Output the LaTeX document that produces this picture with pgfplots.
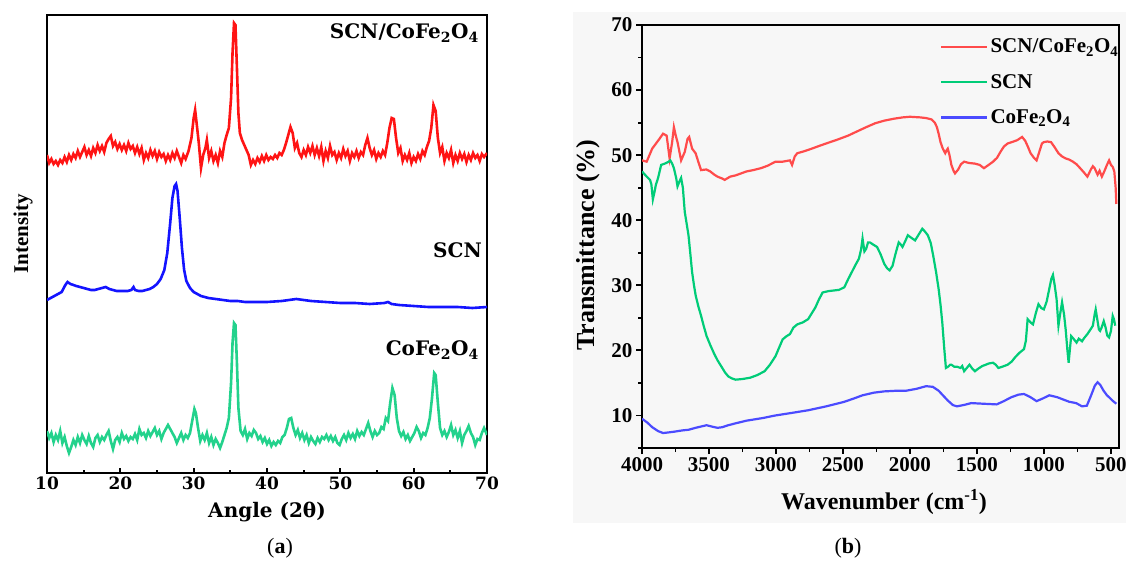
\documentclass[border=0pt]{standalone}
\usepackage{fontspec}
\setmainfont{Liberation Serif}
\newfontfamily\dvs{DejaVu Serif}
\usepackage{pgfplots}
\usepackage{pgfplotstable}
\pgfplotsset{compat=1.18}
\definecolor{redA}{RGB}{255,20,20}
\definecolor{blueA}{RGB}{20,20,255}
\definecolor{greenA}{RGB}{35,210,140}
\definecolor{redB}{RGB}{255,75,75}
\definecolor{greenB}{RGB}{0,204,120}
\definecolor{blueB}{RGB}{75,75,255}
\definecolor{bgB}{RGB}{247,247,247}
\newcommand\fs[1]{\fontsize{#1}{#1}\selectfont}

\pgfplotstableread{
x y
10.0 318
10.3 310
10.6 314
10.9 309
11.2 312
11.5 308
11.8 313
12.1 310
12.4 316
12.7 311
13.0 318
13.3 313
13.6 319
13.9 315
14.2 322
14.5 316
14.8 321
15.1 326
15.4 318
15.7 323
16.0 317
16.3 325
16.6 320
16.9 328
17.2 322
17.5 327
17.8 321
18.1 330
18.4 334
18.7 337
19.0 327
19.3 331
19.6 324
19.9 329
20.2 323
20.5 328
20.8 322
21.1 330
21.4 324
21.7 327
22.0 320
22.3 326
22.6 319
22.9 325
23.2 313
23.5 320
23.8 315
24.1 323
24.4 317
24.7 322
25.0 314
25.3 321
25.6 316
25.9 319
26.2 312
26.5 318
26.8 313
27.1 320
27.4 315
27.7 322
28.0 316
28.3 310
28.6 318
28.9 314
29.3 322
29.7 335
30.0 355
30.2 363
30.4 350
30.7 330
31.0 305
31.3 318
31.6 325
31.8 333
32.1 315
32.4 322
32.7 312
33.0 318
33.3 310
33.6 322
33.9 316
34.2 330
34.5 338
34.8 345
35.1 375
35.3 420
35.5 450
35.7 448
35.9 405
36.1 360
36.3 340
36.6 333
36.9 328
37.2 323
37.5 318
37.8 308
38.1 313
38.4 309
38.7 315
39.0 311
39.3 317
39.6 312
39.9 318
40.2 313
40.5 316
40.8 314
41.1 318
41.4 315
41.7 320
42.0 318
42.3 323
42.6 330
42.9 338
43.2 346
43.5 340
43.8 325
44.1 330
44.4 320
44.7 316
45.0 323
45.3 318
45.6 326
45.9 320
46.2 327
46.5 318
46.8 325
47.1 317
47.4 326
47.7 312
48.0 322
48.3 315
48.6 327
48.9 318
49.2 321
49.5 313
49.8 320
50.1 315
50.4 324
50.7 317
51.0 322
51.3 312
51.6 320
51.9 316
52.2 322
52.5 315
52.8 321
53.1 318
53.4 328
53.7 335
54.0 325
54.3 318
54.6 323
54.9 314
55.2 320
55.5 316
55.8 322
56.1 318
56.4 330
56.7 345
57.0 355
57.3 354
57.6 335
57.9 320
58.2 325
58.5 312
58.8 318
59.1 313
59.4 320
59.7 310
60.0 316
60.3 312
60.6 319
60.9 314
61.2 322
61.5 318
61.8 326
62.1 332
62.4 345
62.7 368
63.0 362
63.3 335
63.6 320
63.9 326
64.2 312
64.5 320
64.8 315
65.1 323
65.4 310
65.7 318
66.0 312
66.3 320
66.6 314
66.9 319
67.2 311
67.5 318
67.8 313
68.1 320
68.4 315
68.7 318
69.0 312
69.3 319
69.6 316
70.0 320
}\xrdcomp

\pgfplotstableread{
x y
10.0 173
10.5 175
11.0 177
11.5 179
12.0 181
12.5 188
12.8 191
13.2 189
13.6 188
14.0 187
14.5 186
15.0 185
15.5 184
16.0 183
16.5 183
17.0 184
17.5 185
18.0 186
18.5 184
19.0 183
19.5 182
20.0 182
20.5 182
21.0 182
21.5 183
21.8 186
22.0 183
22.5 182
23.0 182
23.5 183
24.0 184
24.5 186
25.0 189
25.5 194
26.0 203
26.4 220
26.8 250
27.1 275
27.4 287
27.6 289
27.8 282
28.1 255
28.4 225
28.7 203
29.0 192
29.5 185
30.0 181
30.5 179
31.0 177
32.0 175
33.0 174
34.0 173
35.0 172
36.0 172
37.0 171
38.0 171
40.0 171
42.0 172
43.0 173
44.0 174
45.0 173
46.0 172
48.0 171
50.0 170
52.0 170
54.0 169
56.0 170
56.5 171
57.0 169
58.0 168
60.0 167
62.0 166
64.0 166
66.0 166
68.0 165
70.0 166
}\xrdscn

\pgfplotstableread{
x y
10.0 42
10.3 35
10.6 40
10.9 31
11.2 38
11.5 33
11.8 42
12.1 30
12.4 36
12.7 27
13.0 20
13.3 26
13.6 33
13.9 28
14.2 36
14.5 30
14.8 38
15.1 33
15.4 29
15.7 37
16.0 30
16.3 26
16.6 35
16.9 38
17.2 31
17.5 36
17.8 33
18.1 38
18.4 42
18.7 32
19.0 24
19.3 33
19.6 36
19.9 31
20.2 40
20.5 34
20.8 37
21.1 32
21.4 36
21.7 34
22.0 39
22.3 33
22.6 44
22.9 38
23.2 40
23.5 35
23.8 42
24.1 37
24.4 41
24.7 45
25.0 38
25.3 42
25.6 34
25.9 40
26.2 44
26.5 48
26.8 44
27.1 40
27.4 36
27.7 30
28.0 35
28.3 40
28.6 33
28.9 38
29.2 35
29.5 40
29.8 52
30.1 64
30.3 60
30.6 45
30.9 32
31.2 38
31.5 33
31.8 40
32.1 30
32.4 36
32.7 28
33.0 34
33.3 30
33.6 25
33.9 31
34.2 38
34.5 45
34.8 55
35.1 90
35.3 130
35.5 150
35.7 148
35.9 110
36.1 65
36.4 42
36.7 38
37.0 44
37.3 34
37.6 40
37.9 37
38.2 43
38.5 40
38.8 34
39.1 37
39.4 31
39.7 35
40.0 29
40.3 33
40.6 27
40.9 31
41.2 28
41.5 32
41.8 30
42.1 36
42.4 38
42.7 45
43.0 54
43.3 55
43.6 45
43.9 38
44.2 43
44.5 35
44.8 40
45.1 33
45.4 38
45.7 30
46.0 36
46.3 32
46.6 29
46.9 35
47.2 31
47.5 36
47.8 34
48.1 38
48.4 33
48.7 37
49.0 32
49.3 36
49.6 30
49.9 28
50.2 34
50.5 38
50.8 33
51.1 40
51.4 35
51.7 39
52.0 34
52.3 42
52.6 37
52.9 41
53.2 38
53.5 44
53.8 50
54.1 42
54.4 36
54.7 42
55.0 38
55.3 40
55.6 46
55.9 44
56.2 55
56.5 52
56.8 70
57.1 85
57.4 78
57.7 55
58.0 42
58.3 37
58.6 41
58.9 34
59.2 38
59.5 32
59.8 36
60.1 40
60.4 46
60.7 42
61.0 35
61.3 40
61.6 38
61.9 45
62.2 55
62.5 75
62.8 100
63.0 98
63.3 70
63.6 45
63.9 38
64.2 42
64.5 36
64.8 41
65.1 48
65.4 38
65.7 43
66.0 35
66.3 42
66.6 30
66.9 38
67.2 42
67.5 47
67.8 40
68.1 36
68.4 28
68.7 34
69.0 33
69.3 40
69.6 45
70.0 38
}\xrdcofe

\pgfplotstableread{
x y
4000 49.2
3965 49.0
3924 51.0
3870 52.5
3843 53.3
3816 53.0
3794 49.5
3775 52.0
3762 54.3
3748 53.0
3735 52.0
3708 49.2
3681 50.5
3660 52.5
3648 52.8
3626 51.0
3600 50.3
3580 49.0
3559 47.7
3520 47.8
3491 47.5
3460 47.0
3437 46.7
3400 46.4
3383 46.2
3342 46.7
3300 46.9
3260 47.2
3220 47.5
3170 47.7
3112 48.0
3060 48.4
3004 49.0
2950 49.0
2896 49.2
2880 48.5
2860 49.8
2841 50.3
2790 50.6
2733 51.0
2680 51.4
2625 51.8
2540 52.4
2462 53.0
2400 53.6
2327 54.3
2260 54.9
2192 55.3
2120 55.6
2056 55.8
2000 55.9
1921 55.8
1880 55.7
1840 55.5
1815 55.0
1799 54.3
1785 53.2
1772 52.0
1755 51.0
1737 50.3
1725 50.8
1718 51.0
1705 50.0
1691 48.5
1675 47.6
1664 47.2
1640 47.8
1620 48.6
1596 49.0
1560 48.8
1515 48.7
1480 48.5
1448 48.0
1420 48.4
1380 49.0
1350 49.6
1325 50.5
1300 51.3
1271 51.8
1240 52.0
1200 52.3
1163 52.8
1140 52.2
1120 51.3
1100 50.3
1075 49.6
1055 49.2
1035 50.5
1015 51.8
1001 52.0
975 52.1
947 52.0
920 51.2
892 50.3
865 49.8
838 49.5
810 49.3
784 49.0
757 48.6
730 48.0
700 47.3
676 46.7
650 47.8
635 48.3
622 48.0
600 47.0
585 47.6
568 46.7
550 47.5
530 48.5
514 49.2
500 48.5
487 48.2
475 47.5
465 45.0
460 42.5
}\ftircomp

\pgfplotstableread{
x y
4000 47.5
3965 46.7
3940 46.2
3930 45.5
3919 43.2
3905 44.5
3897 45.4
3880 46.5
3857 48.5
3830 48.7
3800 49.0
3789 49.2
3775 48.7
3762 48.0
3745 46.5
3735 45.2
3720 46.0
3708 46.5
3695 45.0
3681 41.3
3667 39.5
3653 37.7
3640 35.0
3626 32.0
3612 30.0
3599 28.4
3580 26.8
3559 25.3
3540 23.8
3518 22.2
3490 20.8
3464 19.6
3437 18.5
3410 17.6
3380 16.6
3356 16.0
3330 15.7
3302 15.5
3250 15.6
3193 15.8
3140 16.2
3085 16.8
3045 17.8
3004 19.1
2975 20.5
2950 21.7
2920 22.2
2896 22.5
2870 23.5
2841 24.0
2800 24.3
2760 24.8
2730 25.8
2706 26.6
2680 27.8
2652 28.9
2610 29.1
2571 29.2
2530 29.3
2490 29.7
2460 31.0
2435 32.0
2405 33.2
2381 34.1
2365 35.5
2354 37.2
2340 35.2
2327 35.6
2313 36.6
2300 36.6
2270 36.2
2246 35.9
2220 34.8
2192 33.3
2170 32.6
2152 32.3
2130 33.0
2111 34.6
2095 35.8
2084 36.6
2070 36.3
2056 35.9
2035 36.8
2016 37.7
1990 37.3
1962 36.9
1935 37.8
1908 38.7
1890 38.3
1867 37.7
1845 36.5
1827 34.6
1805 32.0
1786 29.4
1772 27.0
1759 24.3
1745 20.5
1732 17.3
1715 17.5
1700 17.8
1691 17.8
1670 17.5
1650 17.5
1623 17.3
1610 17.6
1596 16.8
1580 17.2
1556 17.8
1535 17.2
1515 16.8
1490 17.2
1460 17.6
1434 17.8
1410 18.0
1380 18.1
1360 17.8
1340 17.3
1310 17.5
1271 17.8
1240 18.3
1217 18.9
1185 19.6
1149 20.2
1135 21.5
1122 24.8
1100 24.3
1082 24.0
1060 25.8
1041 27.1
1020 26.5
1001 26.3
980 27.5
960 29.5
945 31.0
933 31.6
920 30.0
906 27.9
892 23.8
880 25.5
865 27.4
850 25.5
838 23.2
825 20.0
816 18.1
805 20.5
797 22.2
780 21.8
757 21.2
740 21.8
716 21.4
700 21.9
676 22.5
650 23.3
635 23.8
622 25.5
614 26.3
600 24.5
590 23.2
581 23.0
570 23.5
554 24.5
540 23.5
528 22.3
514 22.0
500 23.0
487 25.3
478 24.8
468 23.8
}\ftirscn

\pgfplotstableread{
x y
4000 9.5
3960 8.9
3924 8.2
3880 7.6
3843 7.3
3800 7.4
3762 7.5
3700 7.7
3653 7.8
3600 8.1
3560 8.3
3518 8.5
3480 8.3
3437 8.1
3400 8.2
3356 8.5
3300 8.8
3220 9.2
3100 9.6
3004 10.0
2880 10.4
2760 10.8
2625 11.4
2490 12.1
2420 12.6
2354 13.1
2270 13.5
2192 13.7
2100 13.8
2029 13.8
1950 14.1
1880 14.5
1830 14.4
1786 13.8
1750 13.0
1718 12.3
1680 11.6
1650 11.4
1600 11.6
1542 11.9
1450 11.8
1353 11.7
1300 12.2
1244 12.8
1190 13.2
1149 13.3
1100 12.8
1055 12.2
1010 12.6
960 13.1
900 12.8
850 12.4
811 12.1
760 11.9
716 11.4
680 11.5
650 13.0
620 14.6
600 15.1
580 14.7
555 13.8
530 13.1
514 12.8
490 12.3
460 11.8
}\ftircofe

\begin{document}
\begin{tikzpicture}[x=1pt,y=1pt]
\useasboundingbox (0,0) rectangle (1126,563);
\fill[bgB] (573,40) rectangle (1126,551);

% ---------- panel (a) ----------
\begin{axis}[
  at={(47pt,90pt)}, anchor=south west,
  width=440pt, height=458pt, scale only axis,
  xmin=10, xmax=70, ymin=0, ymax=458,
  axis line style={line width=2.6pt, black},
  xtick={10,20,30,40,50,60,70}, minor xtick={15,25,35,45,55,65},
  ytick=\empty, xtick pos=bottom, tick align=inside,
  major tick length=5pt, minor tick length=3.5pt,
  tick style={line width=2pt, black},
  /pgf/number format/assume math mode=true,
  xticklabel style={font=\dvs\bfseries\fs{17}},
]
\addplot[redA, line width=2.6pt] table[x=x,y=y] {\xrdcomp};
\addplot[blueA, line width=2.6pt] table[x=x,y=y] {\xrdscn};
\addplot[greenA, line width=2.6pt] table[x=x,y=y] {\xrdcofe};
\end{axis}

% ---------- panel (b) ----------
\begin{axis}[
  at={(642pt,115pt)}, anchor=south west,
  width=477pt, height=423pt, scale only axis,
  x dir=reverse, xmin=440, xmax=4000, ymin=5, ymax=70,
  axis line style={line width=2.4pt, black},
  xtick={500,1000,1500,2000,2500,3000,3500,4000},
  minor xtick={750,1250,1750,2250,2750,3250,3750},
  ytick={10,20,30,40,50,60,70}, minor ytick={5,15,25,35,45,55,65},
  xtick pos=bottom, ytick pos=left, tick align=outside,
  major tick length=6pt, minor tick length=4pt,
  tick style={line width=1.8pt, black},
  scaled ticks=false,
  /pgf/number format/1000 sep={},
  /pgf/number format/assume math mode=true,
  xticklabel style={font=\bfseries\fs{21}},
  yticklabel style={font=\bfseries\fs{21}},
  legend style={at={(0.625,0.972)}, anchor=north west, draw=none, fill=none,
    font=\bfseries\fs{21}, row sep=16pt, inner sep=0pt},
  legend cell align=left,
  legend image code/.code={\draw[#1] (0pt,0pt) -- (46pt,0pt);},
]
\addplot[redB, line width=2.2pt] table[x=x,y=y] {\ftircomp};
\addlegendentry{SCN/CoFe\textsubscript{2}O\textsubscript{4}}
\addplot[greenB, line width=2.2pt] table[x=x,y=y] {\ftirscn};
\addlegendentry{SCN}
\addplot[blueB, line width=2.2pt] table[x=x,y=y] {\ftircofe};
\addlegendentry{CoFe\textsubscript{2}O\textsubscript{4}}
\end{axis}

% ---------- labels ----------
\node[font=\dvs\bfseries\fs{20}] at (267,51) {Angle (2θ)};
\node[font=\bfseries\fs{21}, rotate=90] at (23,329) {Intensity};
\node[font=\fs{22}] at (280,15) {(\textbf{a})};
\node[font=\fs{22}] at (848,15) {(\textbf{b})};
\node[font=\bfseries\fs{26}, rotate=90] at (588,318) {Transmittance (\%)};
\node[font=\bfseries\fs{24}] at (884,61) {Wavenumber (cm\textsuperscript{-1})};
\node[font=\dvs\bfseries\fs{20}, anchor=east, inner sep=0pt] at (479,530) {SCN/CoFe\textsubscript{2}O\textsubscript{4}};
\node[font=\dvs\bfseries\fs{20}, anchor=east, inner sep=0pt] at (482,313) {SCN};
\node[font=\dvs\bfseries\fs{20}, anchor=east, inner sep=0pt] at (479,213) {CoFe\textsubscript{2}O\textsubscript{4}};
\end{tikzpicture}
\end{document}
